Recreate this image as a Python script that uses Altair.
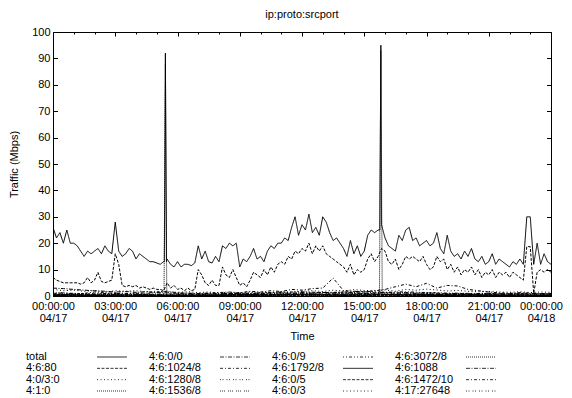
import altair as alt
import pandas as pd
from datetime import datetime, timezone, timedelta

# ---------------- data ----------------
series_names = ["total", "4:6:80", "4:0/3:0", "4:1:0",
                "4:6:0/0", "4:6:1024/8", "4:6:1280/8", "4:6:1536/8",
                "4:6:0/9", "4:6:1792/8", "4:6:0/5", "4:6:0/3",
                "4:6:3072/8", "4:6:1088", "4:6:1472/10", "4:17:27648"]

# 10-minute samples, 00:00 .. 24:00
total = [26, 22, 24, 20, 25, 20,
         20, 19, 17, 15, 17, 16,
         17, 18, 16, 19, 17, 16,
         28, 17, 15, 16, 18, 17,
         14, 16, 15, 14, 13, 13,
         12.5, 12, 13, 14, 12, 11,
         13, 11, 12, 12, 11.5, 12.5,
         19, 14, 17, 13, 12.5, 15,
         13, 19, 18, 20, 19, 20,
         11, 14, 13, 15, 18, 14,
         15, 13, 17, 19, 18, 20,
         20, 22, 21, 26, 30, 23,
         27, 25, 31, 24, 26, 23,
         30, 28, 24, 21, 22, 20,
         18, 15, 21, 16, 19, 15,
         17, 23, 25, 24, 25, 27,
         22, 19, 18, 17, 23, 21,
         25, 26, 21, 22, 19, 20,
         21, 19, 20, 24, 18, 16,
         23, 17, 15, 16, 14, 17,
         15, 18, 14, 13, 15, 12,
         13, 16, 12, 14, 13, 12,
         11, 13, 12, 14, 12, 30,
         30, 12, 20, 12, 16, 13,
         12]
total_spike_min = [322, 325, 328, 945, 948]
total_spike_val = [13, 92, 13, 25, 95]

http80 = [7, 6, 5.5, 5, 5, 5,
          5, 5, 4.5, 5, 7, 5,
          6, 9, 5.5, 5, 5.5, 6,
          16, 12, 4, 3.5, 4, 3.5,
          4, 3, 3.5, 3, 2.5, 3,
          2.5, 2.5, 2, 5, 3, 4,
          2.5, 3, 2, 3, 2, 2.5,
          10, 8, 5, 4, 6, 4,
          4, 11, 8, 7, 10, 7,
          4, 5, 3.5, 6, 9, 8,
          7, 10, 8, 11, 9, 12,
          13, 12, 15, 14, 17, 16,
          18, 17, 20, 16, 19, 17,
          19, 16, 15, 14, 13, 12,
          11, 9, 12, 8, 10, 9,
          10, 14, 16, 13, 15, 18,
          17, 13, 12, 14, 10, 12,
          15, 14, 15, 14, 13, 15,
          12, 10, 11, 15, 13, 14,
          10, 12, 9, 11, 8, 10,
          9, 11, 8, 10, 7, 9,
          8, 10, 7, 9, 8, 9,
          7, 9, 8, 7, 6, 18.7,
          18.7, 1, 9, 10, 9, 10,
          9]

# 30-minute samples, 00:00 .. 24:00
s_4_0_3_0 = [2.5, 2, 2.2, 1.8, 2, 1.5, 2, 1.8, 2, 1.6, 1.8, 1.5, 1.4, 1.6, 1.3, 1.5,
             1.2, 1.4, 1.3, 1.5, 1.2, 1.4, 1.6, 1.5, 1.8, 2, 1.7, 2.2, 1.9, 2.4, 2.1, 2,
             2.3, 1.8, 2.5, 2.2, 2.6, 2.3, 1.9, 2.1, 1.8, 1.6, 1.7, 1.5, 1.4, 1.6, 1.3, 1.5, 1.4]
s_4_1_0 = [0.6, 0.5, 0.7, 0.5, 0.4, 0.6, 0.5, 0.4, 0.6, 0.5, 0.7, 0.5, 0.4, 0.5, 0.6, 0.4,
           0.5, 0.6, 0.5, 0.4, 0.6, 0.5, 0.7, 0.6, 0.5, 0.8, 0.6, 0.7, 0.5, 0.6, 0.8, 0.7,
           0.6, 0.5, 0.7, 0.6, 0.5, 0.4, 0.6, 0.5, 0.4, 0.6, 0.5, 0.4, 0.5, 0.6, 0.4, 0.5, 0.5]
s_4_1_0_spike_min = [321, 325, 329, 944, 948, 952]
s_4_1_0_spike_val = [0.5, 88, 0.5, 0.6, 93, 0.6]
s_4_6_0_0 = [3, 2.8, 2.5, 2.2, 2, 1.8, 1.5, 1.7, 1.4, 1.6, 1.3, 1.2, 1.0, 1.1, 0.9, 1.0,
             0.8, 1.0, 0.9, 0.8, 1.0, 1.1, 1.2, 1.0, 1.3, 1.1, 1.4, 1.2, 1.5, 1.3, 1.6, 1.2,
             1.4, 1.1, 1.3, 1.0, 1.2, 1.1, 0.9, 1.0, 0.8, 0.9, 1.0, 0.8, 0.9, 1.0, 0.8, 0.9, 0.9]
s_4_6_1024 = [1, 1.2, 0.8, 1, 1.5, 1.2, 1, 0.8, 1.2, 1,
              1.5, 1.8, 1.2, 1, 0.9, 1.1, 1.3, 1.5, 1.2, 1.8,
              1.5, 2, 1.7, 2.5, 2.2, 2.8, 3, 6.8, 2, 1.8,
              1.5, 2, 2.5, 3.5, 4.5, 3.5, 4.8, 3, 4, 3.8,
              2.5, 2, 1.5, 1.2, 1, 1.3, 1.1, 0.9, 1]

# hourly samples, 00:00 .. 24:00
s_1280 = [0.8, 0.6, 0.9, 0.5, 0.7, 0.4, 0.6, 0.5, 0.8, 0.6, 0.9, 1.1, 1.0, 0.8, 1.2, 0.9, 1.1, 0.8, 0.7, 0.9, 0.6, 0.5, 0.7, 0.6, 0.5]
s_1536 = [0.4, 0.3, 0.5, 0.2, 0.4, 0.3, 0.2, 0.4, 0.3, 0.5, 0.4, 0.6, 0.5, 0.7, 0.5, 0.6, 0.4, 0.5, 0.6, 0.4, 0.3, 0.4, 0.3, 0.2, 0.3]
s_0_9 = [1.2, 1.0, 0.8, 1.1, 0.9, 0.7, 0.8, 0.6, 0.9, 1.0, 1.2, 1.4, 1.6, 1.3, 1.5, 1.8, 1.4, 1.6, 1.3, 1.1, 1.0, 0.9, 0.8, 0.9, 0.8]
s_1792 = [0.2, 0.1, 0.2, 0.1, 0.1, 0.2, 0.1, 0.1, 0.2, 0.3, 0.2, 0.3, 0.4, 0.3, 0.2, 0.3, 0.4, 0.3, 0.2, 0.2, 0.1, 0.2, 0.1, 0.1, 0.2]
s_0_5 = [0.6, 0.5, 0.4, 0.5, 0.3, 0.4, 0.3, 0.2, 0.4, 0.5, 0.6, 0.5, 0.7, 0.6, 0.8, 0.6, 0.7, 0.5, 0.6, 0.4, 0.5, 0.4, 0.3, 0.4, 0.3]
s_0_3 = [0.3, 0.4, 0.2, 0.3, 0.2, 0.1, 0.2, 0.3, 0.2, 0.4, 0.3, 0.5, 0.4, 0.3, 0.5, 0.4, 0.3, 0.4, 0.3, 0.2, 0.3, 0.2, 0.3, 0.2, 0.2]
s_3072 = [0.1, 0.2, 0.1, 0.1, 0.2, 0.1, 0.1, 0.1, 0.2, 0.1, 0.2, 0.2, 0.3, 0.2, 0.1, 0.2, 0.3, 0.2, 0.1, 0.2, 0.1, 0.1, 0.2, 0.1, 0.1]
s_1088 = [0.5, 0.4, 0.3, 0.4, 0.5, 0.3, 0.2, 0.3, 0.4, 0.6, 0.5, 0.7, 0.8, 0.6, 0.7, 0.9, 0.6, 0.8, 0.7, 0.5, 0.6, 0.4, 0.5, 0.3, 0.4]
s_1472 = [0.2, 0.3, 0.2, 0.1, 0.2, 0.3, 0.2, 0.1, 0.2, 0.3, 0.4, 0.3, 0.2, 0.4, 0.3, 0.2, 0.3, 0.2, 0.3, 0.2, 0.1, 0.2, 0.3, 0.2, 0.2]
s_27648 = [0.9, 0.7, 0.6, 0.8, 0.5, 0.6, 0.4, 0.5, 0.7, 0.8, 1.0, 0.9, 1.1, 1.2, 1.0, 0.9, 1.1, 1.3, 1.0, 0.8, 0.9, 0.7, 0.8, 0.6, 0.7]

# gnuplot monochrome line types (cycle of 9)
dash_styles = [[1, 0], [3, 1.5], [1, 2.5], [1, 1], [4, 1.5, 1, 1.5],
               [3, 2, 1, 2], [1, 1.5, 1, 3], [1, 1, 1, 1, 1, 3], [1, 2, 1, 2, 3, 2]]

# ---------------- build table ----------------
base = datetime(2009, 4, 17, tzinfo=timezone.utc)


def iso(minute):
    return (base + timedelta(minutes=minute)).strftime("%Y-%m-%dT%H:%M:%SZ")


rows = []


def add(name, values, step, extra_min=(), extra_val=()):
    for i, v in enumerate(values):
        rows.append({"series": name, "t": iso(i * step), "v": v})
    for m, v in zip(extra_min, extra_val):
        rows.append({"series": name, "t": iso(m), "v": v})


add("total", total, 10, total_spike_min, total_spike_val)
add("4:6:80", http80, 10)
add("4:0/3:0", s_4_0_3_0, 30)
add("4:1:0", s_4_1_0, 30, s_4_1_0_spike_min, s_4_1_0_spike_val)
add("4:6:0/0", s_4_6_0_0, 30)
add("4:6:1024/8", s_4_6_1024, 30)
add("4:6:1280/8", s_1280, 60)
add("4:6:1536/8", s_1536, 60)
add("4:6:0/9", s_0_9, 60)
add("4:6:1792/8", s_1792, 60)
add("4:6:0/5", s_0_5, 60)
add("4:6:0/3", s_0_3, 60)
add("4:6:3072/8", s_3072, 60)
add("4:6:1088", s_1088, 60)
add("4:6:1472/10", s_1472, 60)
add("4:17:27648", s_27648, 60)
df = pd.DataFrame(rows)

legend_df = pd.DataFrame({
    "series": series_names,
    "col": [i // 4 for i in range(len(series_names))],
    "row": [i % 4 for i in range(len(series_names))],
})

dash_range = [dash_styles[i % 9] for i in range(len(series_names))]
dash_scale = alt.Scale(domain=series_names, range=dash_range)

W, H = 498, 264
hour_ticks = [int((base + timedelta(hours=h)).timestamp() * 1000) for h in range(25)]
last_tick = hour_ticks[-1]

FONT = "Liberation Sans"

lines = alt.Chart(df).mark_line(color="black", strokeWidth=1, clip=True).encode(
    x=alt.X("t:T", scale=alt.Scale(type="utc", domain=[iso(0), iso(1440)], nice=False),
            axis=alt.Axis(values=hour_ticks, title="Time", ticks=False, tickSize=0,
                          labelExpr="utchours(datum.value) % 3 == 0 ? [utcFormat(datum.value, '%H:%M:%S'), utcFormat(datum.value, '%m/%d')] : ''",
                          labelLineHeight=12, labelPadding=4, labelAngle=0, labelOverlap=False,
                          labelAlign="center", labelBaseline="top",
                          labelOffset={"condition": {"test": f"datum.value >= {last_tick}",
                                                     "value": -10},
                                       "value": 0},
                          grid=True, gridColor="black", gridOpacity=1, gridWidth=1,
                          gridDash={"condition": {"test": "utchours(datum.value) % 3 == 0",
                                                  "value": [4, 256, 4, 1000]},
                                    "value": [2, 260, 2, 1000]},
                          titlePadding=7)),
    y=alt.Y("v:Q", scale=alt.Scale(domain=[0, 100], nice=False),
            axis=alt.Axis(values=list(range(0, 101, 10)), title="Traffic (Mbps)",
                          ticks=False, tickSize=0, labelPadding=3,
                          grid=True, gridColor="black", gridOpacity=1, gridWidth=1,
                          gridDash=[4.5, 489, 4.5, 1000], titlePadding=12)),
    strokeDash=alt.StrokeDash("series:N", scale=dash_scale, legend=None),
    detail="series:N",
    order=alt.Order("t:T"),
)

leg_x = alt.Scale(domain=[0, 3], range=[-27, 342], nice=False, zero=False)
leg_y = alt.Scale(domain=[0, 3], range=[325, 359], nice=False, zero=False)

leg_text = alt.Chart(legend_df).mark_text(align="left", baseline="middle", fontSize=11,
                                          font=FONT, color="black").encode(
    x=alt.X("col:Q", scale=leg_x, axis=None),
    y=alt.Y("row:Q", scale=leg_y, axis=None),
    text="series:N",
)

leg_rule = alt.Chart(legend_df).mark_rule(color="#333333", strokeWidth=1,
                                          xOffset=71, x2Offset=101).encode(
    x=alt.X("col:Q", scale=leg_x, axis=None),
    x2="col:Q",
    y=alt.Y("row:Q", scale=leg_y, axis=None),
    strokeDash=alt.StrokeDash("series:N", scale=dash_scale, legend=None),
)

chart = alt.layer(lines, leg_text, leg_rule).resolve_scale(
    x="independent", y="independent"
).properties(
    width=W, height=H,
    title=alt.TitleParams("ip:proto:srcport", fontSize=11, fontWeight="normal",
                          font=FONT, color="black", offset=6, anchor="middle"),
    autosize=alt.AutoSizeParams(type="none"),
    padding={"left": 45, "top": 24, "right": 13, "bottom": 104},
).configure(
    font=FONT,
).configure_view(
    stroke="black", strokeWidth=1,
).configure_axis(
    labelFont=FONT, labelFontSize=11, labelColor="black",
    titleFont=FONT, titleFontSize=11, titleFontWeight="normal", titleColor="black",
    domainColor="black", domainWidth=1,
)

chart.save("out.html", embed_options={"renderer": "svg", "actions": False})
